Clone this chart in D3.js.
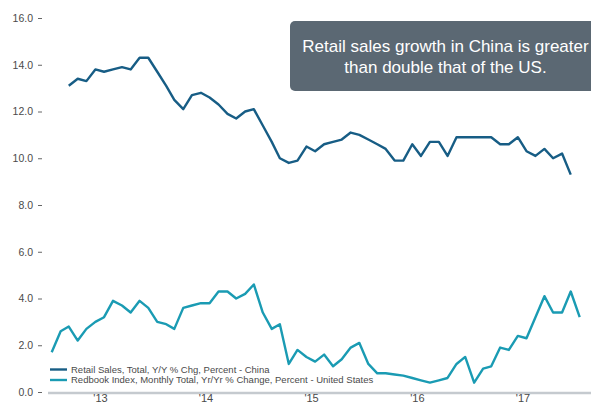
<html>
  <head>
    <style>
      body { margin: 0; background: #fff; }
      svg { display: block; font-family: "Liberation Sans", Arial, sans-serif; }
    </style>
  </head>
  <body>
    <script src="https://d3js.org/d3.v7.min.js"></script>
    <script>
      // DATA (monthly)
      const chinaStart = "2013-03";
      const chinaRetail = [
        13.1, 13.4, 13.3, 13.8, 13.7, 13.8, 13.9, 13.8, 14.3, 14.3,
        13.7, 13.1, 12.5, 12.1, 12.7, 12.8, 12.6, 12.3, 11.9, 11.7,
        12.0, 12.1, 11.4, 10.7, 10.0, 9.8, 9.9, 10.5, 10.3, 10.6,
        10.7, 10.8, 11.1, 11.0, 10.8, 10.6, 10.4, 9.9, 9.9, 10.6,
        10.1, 10.7, 10.7, 10.1, 10.9, 10.9, 10.9, 10.9, 10.9, 10.6,
        10.6, 10.9, 10.3, 10.1, 10.4, 10.0, 10.2, 9.3
      ];
      const usStart = "2013-01";
      const usRedbook = [
        1.7, 2.6, 2.8, 2.2, 2.7, 3.0, 3.2, 3.9, 3.7, 3.4,
        3.9, 3.6, 3.0, 2.9, 2.7, 3.6, 3.7, 3.8, 3.8, 4.3,
        4.3, 4.0, 4.2, 4.6, 3.4, 2.7, 2.9, 1.2, 1.8, 1.5,
        1.3, 1.6, 1.1, 1.4, 1.9, 2.1, 1.2, 0.8, 0.8, 0.75,
        0.7, 0.6, 0.5, 0.4, 0.5, 0.6, 1.2, 1.5, 0.4, 1.0,
        1.1, 1.9, 1.8, 2.4, 2.3, 3.2, 4.1, 3.4, 3.4, 4.3,
        3.2
      ];
      const yearTicks = [2013, 2014, 2015, 2016, 2017];
      const yearLabels = ["'13", "'14", "'15", "'16", "'17"];
      const yTicks = [0, 2, 4, 6, 8, 10, 12, 14, 16];
      const seriesNames = [
        "Retail Sales, Total, Y/Y % Chg, Percent - China",
        "Redbook Index, Monthly Total, Yr/Yr % Change, Percent - United States"
      ];
      const seriesColors = ["#175d85", "#1a9bb3"];
      const noteLines = [
        "Retail sales growth in China is greater",
        "than double that of the US."
      ];

      const width = 591, height = 403;
      const parseMonth = d3.timeParse("%Y-%m");

      // turn a start month + values into dated points (mid month)
      function toPoints(start, values) {
        const first = parseMonth(start);
        return values.map((v, i) => {
          const d = d3.timeMonth.offset(first, i);
          d.setDate(15);
          return { date: d, value: v };
        });
      }

      const chinaData = toPoints(chinaStart, chinaRetail);
      const usData = toPoints(usStart, usRedbook);

      const svg = d3
        .select("body")
        .append("svg")
        .attr("width", width)
        .attr("height", height);

      // SCALES
      const xScale = d3
        .scaleTime()
        .domain([new Date(2013, 0, 15), new Date(2018, 0, 15)])
        .range([51.7, 579.7]);
      const yScale = d3.scaleLinear().domain([0, 16]).range([392, 18]);

      // baseline
      svg
        .append("line")
        .attr("x1", 48)
        .attr("x2", width)
        .attr("y1", 393)
        .attr("y2", 393)
        .attr("stroke", "#c5cacf")
        .attr("stroke-width", 2.5);

      // y axis
      const yAxis = d3
        .axisLeft(yScale)
        .tickValues(yTicks)
        .tickFormat(d3.format(".1f"))
        .tickSize(4)
        .tickPadding(5);
      const gy = svg.append("g").attr("transform", "translate(42,0)").call(yAxis);
      gy.select(".domain").remove();
      gy.selectAll(".tick line").attr("stroke", "#666");
      gy.selectAll(".tick text")
        .attr("fill", "#4a4a4a")
        .style("font-size", "10.5px")
        .style("font-family", "'Liberation Sans', Arial, sans-serif");

      // x axis, labels sit mid year
      const xAxis = d3
        .axisBottom(xScale)
        .tickValues(yearTicks.map((y) => new Date(y, 6, 1)))
        .tickFormat((d, i) => yearLabels[i])
        .tickSize(0)
        .tickPadding(2.5);
      const gx = svg.append("g").attr("transform", "translate(0,392)").call(xAxis);
      gx.select(".domain").remove();
      gx.selectAll(".tick text")
        .attr("fill", "#4a4a4a")
        .style("font-size", "11px")
        .style("font-family", "'Liberation Sans', Arial, sans-serif");

      // LINES
      const line = d3
        .line()
        .x((d) => xScale(d.date))
        .y((d) => yScale(d.value));

      [chinaData, usData].forEach((data, i) => {
        svg
          .append("path")
          .datum(data)
          .attr("d", line)
          .attr("fill", "none")
          .attr("stroke", seriesColors[i])
          .attr("stroke-width", 2.4)
          .attr("stroke-linejoin", "round");
      });

      // LEGEND
      const legend = svg
        .append("g")
        .selectAll("g")
        .data(seriesNames)
        .enter()
        .append("g")
        .attr("transform", (d, i) => `translate(50,${369.5 + i * 10.5})`);
      legend
        .append("line")
        .attr("x1", 0)
        .attr("x2", 17)
        .attr("stroke", (d, i) => seriesColors[i])
        .attr("stroke-width", 2.4);
      legend
        .append("text")
        .attr("x", 21)
        .attr("dy", "0.35em")
        .attr("fill", "#4a4a4a")
        .style("font-size", "9.5px")
        .text((d) => d);

      // ANNOTATION
      const note = svg.append("g");
      note
        .append("rect")
        .attr("x", 290)
        .attr("y", 21)
        .attr("width", 312)
        .attr("height", 70)
        .attr("rx", 5)
        .attr("fill", "#5b6873");
      note
        .selectAll("text")
        .data(noteLines)
        .enter()
        .append("text")
        .attr("x", 445.5)
        .attr("y", (d, i) => 52 + i * 20.5)
        .attr("text-anchor", "middle")
        .attr("fill", "#fff")
        .style("font-size", "17px")
        .text((d) => d);
    </script>
  </body>
</html>
